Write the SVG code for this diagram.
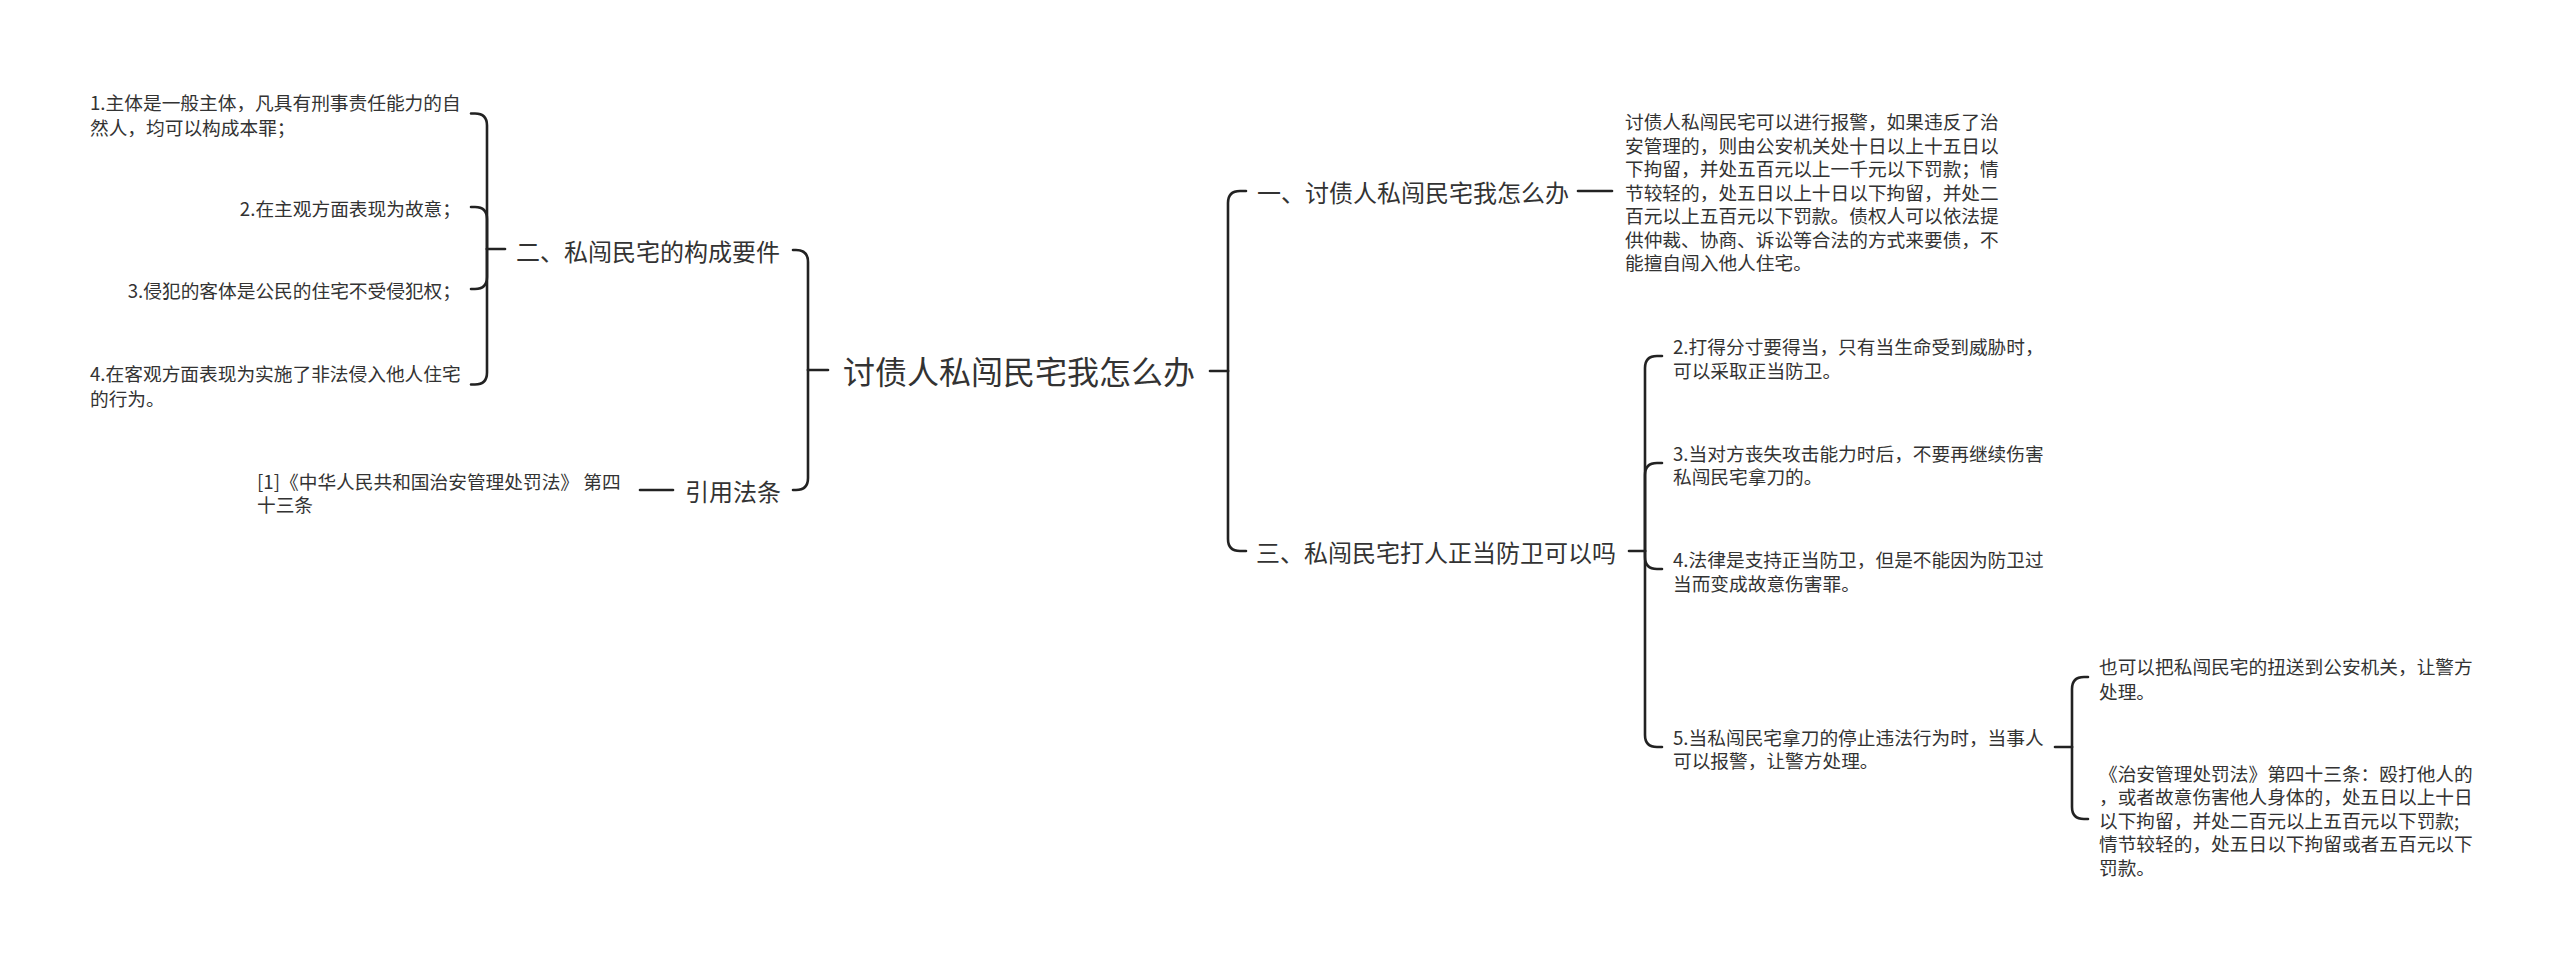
<svg xmlns="http://www.w3.org/2000/svg" width="2560" height="966" viewBox="0 0 2560 966">
<style>
text{font-family:"Noto Sans CJK SC","Microsoft YaHei",sans-serif;fill:#333;dominant-baseline:central}
.root{font-size:32px}
.l1{font-size:24px}
.leaf{font-size:18.7px}
.mid{text-anchor:middle}
.end{text-anchor:end}
#connectors path{fill:none;stroke:#222;stroke-width:2.6;stroke-linecap:round}
</style>
<rect width="2560" height="966" fill="#fff"/>
<g id="connectors">
<path d="M828,370 H808"/>
<path d="M808,370 V262 Q808,250 796,250 H793"/>
<path d="M808,370 V478 Q808,490 796,490 H793"/>
<path d="M505,249 H487"/>
<path d="M487,249 V125.5 Q487,113.5 475,113.5 H471"/>
<path d="M487,249 V219 Q487,207 475,207 H471"/>
<path d="M487,249 V277 Q487,289 475,289 H471"/>
<path d="M487,249 V372.5 Q487,384.5 475,384.5 H471"/>
<path d="M673,490 H640"/>
<path d="M1210,371 H1228"/>
<path d="M1228,371 V203 Q1228,191 1240,191 H1246"/>
<path d="M1228,371 V539 Q1228,551 1240,551 H1246"/>
<path d="M1578,191 H1612"/>
<path d="M1629,551 H1645"/>
<path d="M1645,551 V368 Q1645,356 1657,356 H1662"/>
<path d="M1645,551 V475 Q1645,463 1657,463 H1662"/>
<path d="M1645,551 V557 Q1645,569 1657,569 H1662"/>
<path d="M1645,551 V735 Q1645,747 1657,747 H1662"/>
<path d="M2055,747 H2072"/>
<path d="M2072,747 V689 Q2072,677 2084,677 H2088"/>
<path d="M2072,747 V807 Q2072,819 2084,819 H2088"/>
</g>
<g id="root"><text class="root mid" x="1019" y="370">讨债人私闯民宅我怎么办</text></g>
<g id="n2"><text class="l1 mid" x="648" y="250">二、私闯民宅的构成要件</text></g>
<g id="n2-1"><text class="leaf" x="90" y="101">1.主体是一般主体，凡具有刑事责任能力的自</text><text class="leaf" x="90" y="126">然人，均可以构成本罪；</text></g>
<g id="n2-2"><text class="leaf end" x="461" y="207">2.在主观方面表现为故意；</text></g>
<g id="n2-3"><text class="leaf end" x="461" y="289">3.侵犯的客体是公民的住宅不受侵犯权；</text></g>
<g id="n2-4"><text class="leaf" x="90" y="372">4.在客观方面表现为实施了非法侵入他人住宅</text><text class="leaf" x="90" y="397">的行为。</text></g>
<g id="ref"><text class="l1 mid" x="733" y="490">引用法条</text></g>
<g id="ref-1"><text class="leaf" x="257" y="480">[1]《中华人民共和国治安管理处罚法》 第四</text><text class="leaf" x="257" y="503">十三条</text></g>
<g id="n1"><text class="l1 mid" x="1413" y="191">一、讨债人私闯民宅我怎么办</text></g>
<g id="n1-1">
<text class="leaf" x="1625" y="120.5">讨债人私闯民宅可以进行报警，如果违反了治</text>
<text class="leaf" x="1625" y="144">安管理的，则由公安机关处十日以上十五日以</text>
<text class="leaf" x="1625" y="167.5">下拘留，并处五百元以上一千元以下罚款；情</text>
<text class="leaf" x="1625" y="191">节较轻的，处五日以上十日以下拘留，并处二</text>
<text class="leaf" x="1625" y="214.5">百元以上五百元以下罚款。债权人可以依法提</text>
<text class="leaf" x="1625" y="238">供仲裁、协商、诉讼等合法的方式来要债，不</text>
<text class="leaf" x="1625" y="261.5">能擅自闯入他人住宅。</text>
</g>
<g id="n3"><text class="l1 mid" x="1436" y="551">三、私闯民宅打人正当防卫可以吗</text></g>
<g id="n3-2"><text class="leaf" x="1673" y="345">2.打得分寸要得当，只有当生命受到威胁时，</text><text class="leaf" x="1673" y="369">可以采取正当防卫。</text></g>
<g id="n3-3"><text class="leaf" x="1673" y="452">3.当对方丧失攻击能力时后，不要再继续伤害</text><text class="leaf" x="1673" y="475">私闯民宅拿刀的。</text></g>
<g id="n3-4"><text class="leaf" x="1673" y="558">4.法律是支持正当防卫，但是不能因为防卫过</text><text class="leaf" x="1673" y="582">当而变成故意伤害罪。</text></g>
<g id="n3-5"><text class="leaf" x="1673" y="736">5.当私闯民宅拿刀的停止违法行为时，当事人</text><text class="leaf" x="1673" y="759">可以报警，让警方处理。</text></g>
<g id="n3-5-1"><text class="leaf" x="2099" y="665">也可以把私闯民宅的扭送到公安机关，让警方</text><text class="leaf" x="2099" y="690">处理。</text></g>
<g id="n3-5-2">
<text class="leaf" x="2099" y="772">《治安管理处罚法》第四十三条：殴打他人的</text>
<text class="leaf" x="2099" y="795.5">，或者故意伤害他人身体的，处五日以上十日</text>
<text class="leaf" x="2099" y="819">以下拘留，并处二百元以上五百元以下罚款;</text>
<text class="leaf" x="2099" y="842.5">情节较轻的，处五日以下拘留或者五百元以下</text>
<text class="leaf" x="2099" y="866">罚款。</text>
</g>
</svg>
